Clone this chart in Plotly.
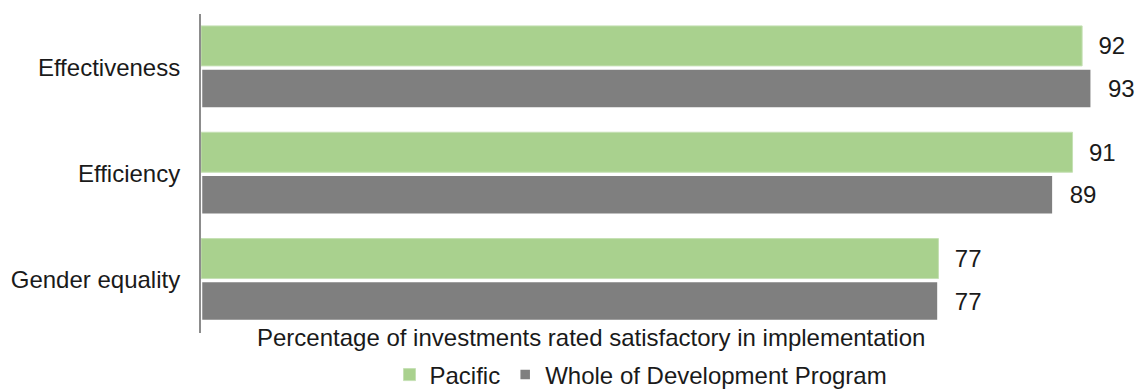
import plotly.graph_objects as go

categories = ["Effectiveness", "Efficiency", "Gender equality"]
pacific = [92, 91, 77]
whole_program = [93, 89, 77]
series_names = ["Pacific", "Whole of Development Program"]
axis_title = "Percentage of investments rated satisfactory in implementation"

FONT = "Liberation Sans, Arial, sans-serif"
TEXT = "#1a1a1a"
FS = 24

fig = go.Figure()
fig.add_trace(go.Bar(
    y=categories, x=pacific, name=series_names[0], orientation="h",
    marker=dict(color="#a9d18e", line=dict(color="#c5e0b4", width=1)),
    texttemplate="  %{x}", textposition="outside",
    textfont=dict(size=FS, color=TEXT, family=FONT), cliponaxis=False,
))
fig.add_trace(go.Bar(
    y=categories, x=whole_program, name=series_names[1], orientation="h",
    marker=dict(color="#7f7f7f", line=dict(color="#ffffff", width=2.5)),
    texttemplate="  %{x}", textposition="outside",
    textfont=dict(size=FS, color=TEXT, family=FONT), cliponaxis=False,
))

L, R, T, B = 201, 8, 14, 57
W, H = 1138, 390
pw = W - L - R

fig.update_layout(
    width=W, height=H,
    margin=dict(l=L, r=R, t=T, b=B, pad=0, autoexpand=False),
    paper_bgcolor="white", plot_bgcolor="white",
    barmode="group", bargap=0.2, bargroupgap=0.06,
    font=dict(family=FONT, size=FS, color=TEXT),
    xaxis=dict(range=[0, 97], showticklabels=False, showgrid=False,
               zeroline=False, showline=False, ticks=""),
    yaxis=dict(autorange="reversed", showline=True, linecolor="#8c8c8c",
               linewidth=2, ticks="", showgrid=False, ticklabelstandoff=14,
               tickfont=dict(size=FS, color=TEXT, family=FONT)),
    legend=dict(orientation="h", x=(641 - L) / pw, xanchor="center",
                yref="container", y=1 - 375 / H, yanchor="middle",
                font=dict(size=FS, color=TEXT, family=FONT),
                itemwidth=30, traceorder="normal"),
    annotations=[dict(text=axis_title, xref="paper", yref="paper",
                      x=(591 - L) / pw, y=-(337 - (H - B)) / (H - T - B),
                      xanchor="center", yanchor="middle", showarrow=False,
                      font=dict(size=FS, color=TEXT, family=FONT))],
)

fig.write_html("out.html")
